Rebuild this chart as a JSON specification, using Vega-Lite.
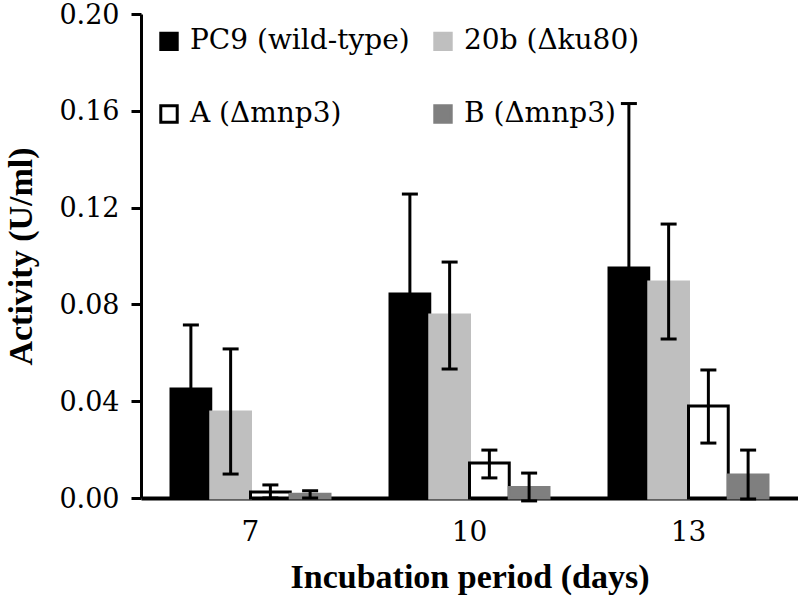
{
  "$schema": "https://vega.github.io/schema/vega-lite/v6.json",
  "width": 657,
  "height": 484,
  "autosize": {"type": "none"},
  "padding": {"left": 141, "top": 14, "right": 0, "bottom": 105},
  "config": {"view": {"stroke": null}},
  "data": {
    "values": [
      {"day": "7", "strain": "PC9 (wild-type)", "value": 0.045, "lo": 0.0185, "hi": 0.0715},
      {"day": "7", "strain": "20b (Δku80)", "value": 0.0355, "lo": 0.0099, "hi": 0.0616},
      {"day": "7", "strain": "A (Δmnp3)", "value": 0.0025, "lo": 0.0, "hi": 0.0054},
      {"day": "7", "strain": "B (Δmnp3)", "value": 0.0015, "lo": 0.0, "hi": 0.003},
      {"day": "10", "strain": "PC9 (wild-type)", "value": 0.0843, "lo": 0.043, "hi": 0.1256},
      {"day": "10", "strain": "20b (Δku80)", "value": 0.0756, "lo": 0.0533, "hi": 0.0975},
      {"day": "10", "strain": "A (Δmnp3)", "value": 0.0145, "lo": 0.0083, "hi": 0.0198},
      {"day": "10", "strain": "B (Δmnp3)", "value": 0.0043, "lo": -0.0012, "hi": 0.0103},
      {"day": "13", "strain": "PC9 (wild-type)", "value": 0.095, "lo": 0.027, "hi": 0.163},
      {"day": "13", "strain": "20b (Δku80)", "value": 0.0893, "lo": 0.0657, "hi": 0.1132},
      {"day": "13", "strain": "A (Δmnp3)", "value": 0.038, "lo": 0.0227, "hi": 0.0529},
      {"day": "13", "strain": "B (Δmnp3)", "value": 0.0095, "lo": -0.0004, "hi": 0.0198}
    ]
  },
  "encoding": {
    "x": {
      "field": "day", "type": "nominal", "sort": ["7", "10", "13"],
      "scale": {"paddingInner": 0, "paddingOuter": 0},
      "axis": {
        "title": "Incubation period (days)", "labelAngle": 0, "labelFont": "DejaVu Serif", "labelFontSize": 28, "labelColor": "black",
        "labelPadding": 20, "ticks": false, "domainWidth": 4, "domainColor": "black",
        "titleFont": "Liberation Serif", "titleFontSize": 34, "titleFontWeight": "bold", "titleColor": "black", "titlePadding": 14
      }
    },
    "xOffset": {
      "field": "strain", "type": "nominal",
      "sort": ["PC9 (wild-type)", "20b (Δku80)", "A (Δmnp3)", "B (Δmnp3)"],
      "scale": {"paddingInner": 0, "paddingOuter": 0.755}
    }
  },
  "layer": [
    {
      "mark": {"type": "bar", "strokeWidth": 3, "clip": false},
      "encoding": {
        "y": {
          "field": "value", "type": "quantitative",
          "scale": {"domain": [0, 0.2]},
          "axis": {
            "title": "Activity (U/ml)", "values": [0, 0.04, 0.08, 0.12, 0.16, 0.2], "format": ".2f",
            "grid": false, "labelFont": "DejaVu Serif", "labelFontSize": 27, "labelColor": "black", "labelPadding": 12, "labelOffset": 1,
            "tickSize": 10, "tickWidth": 3, "tickColor": "black", "domainWidth": 3, "domainColor": "black",
            "titleFont": "Liberation Serif", "titleFontSize": 34, "titleFontWeight": "bold", "titleColor": "black", "titlePadding": 20
          }
        },
        "fill": {
          "field": "strain", "type": "nominal",
          "sort": ["PC9 (wild-type)", "20b (Δku80)", "A (Δmnp3)", "B (Δmnp3)"],
          "scale": {"domain": ["PC9 (wild-type)", "20b (Δku80)", "A (Δmnp3)", "B (Δmnp3)"], "range": ["#000000", "#bfbfbf", "#ffffff", "#7f7f7f"]},
          "legend": {
            "title": null, "orient": "none", "legendX": 14, "legendY": 13, "columns": 2, "direction": "horizontal",
            "symbolType": "square", "symbolSize": 270, "symbolStrokeWidth": 3, "labelLimit": 400,
            "labelFont": "DejaVu Serif", "labelFontSize": 28, "labelColor": "black", "labelOffset": 7, "columnPadding": 18, "rowPadding": 43
          }
        },
        "stroke": {
          "field": "strain", "type": "nominal",
          "sort": ["PC9 (wild-type)", "20b (Δku80)", "A (Δmnp3)", "B (Δmnp3)"],
          "scale": {"domain": ["PC9 (wild-type)", "20b (Δku80)", "A (Δmnp3)", "B (Δmnp3)"], "range": ["#000000", "#bfbfbf", "#000000", "#7f7f7f"]},
          "legend": {
            "title": null, "orient": "none", "legendX": 14, "legendY": 13, "columns": 2, "direction": "horizontal",
            "symbolType": "square", "symbolSize": 270, "symbolStrokeWidth": 3, "labelLimit": 400,
            "labelFont": "DejaVu Serif", "labelFontSize": 28, "labelColor": "black", "labelOffset": 7, "columnPadding": 18, "rowPadding": 43
          }
        }
      }
    },
    {
      "mark": {"type": "rule", "strokeWidth": 3, "color": "black", "clip": false},
      "encoding": {
        "y": {"field": "lo", "type": "quantitative"},
        "y2": {"field": "hi"}
      }
    },
    {
      "mark": {"type": "tick", "orient": "horizontal", "size": 16, "thickness": 3, "color": "black", "opacity": 1, "clip": false},
      "encoding": {"y": {"field": "hi", "type": "quantitative"}}
    },
    {
      "mark": {"type": "tick", "orient": "horizontal", "size": 16, "thickness": 3, "color": "black", "opacity": 1, "clip": false},
      "encoding": {"y": {"field": "lo", "type": "quantitative"}}
    }
  ]
}
